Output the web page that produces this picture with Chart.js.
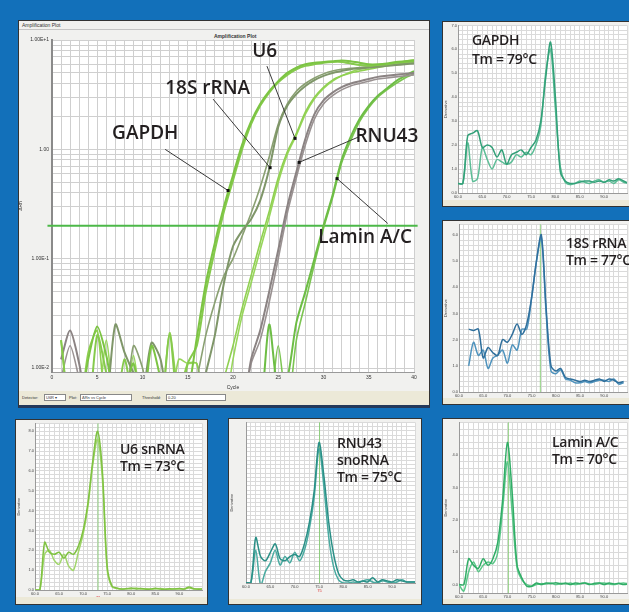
<!DOCTYPE html>
<html>
<head>
<meta charset="utf-8">
<script src="https://cdn.jsdelivr.net/npm/chart.js@4.4.0/dist/chart.umd.min.js"></script>
<style>
  body { margin: 0; width: 629px; height: 612px; background: #1270ba; position: relative; overflow: hidden; font-family: "Liberation Sans", sans-serif; }
  .win { position: absolute; background: #f1f1ef; border: 1px solid #333; box-sizing: border-box; }
  canvas { position: absolute; }
  .tiny { position: absolute; font-size: 4px; line-height: 5px; color: #333; white-space: nowrap; }
  .bar { position: absolute; background: #ece9d8; }
  .box { position: absolute; background: #fff; border: 1px solid #888; box-sizing: border-box; font-size: 4px; line-height: 5px; padding-left: 1px; color: #333; }
  .tag { position: absolute; font-family: "Open Sans", sans-serif; font-weight: 600; font-size: 14px; line-height: 17px; color: #231f20; white-space: nowrap; letter-spacing: -0.3px; }
</style>
</head>
<body>

<!-- amplification plot window -->
<div class="win" style="left:18px;top:20px;width:412px;height:388px;border-bottom:3px solid #24395a"></div>
<div class="tiny" style="left:22px;top:23px;font-size:5px">Amplification Plot</div>
<div style="position:absolute;left:19px;top:29px;width:410px;height:1px;background:#c4c4c4"></div>
<div class="tiny" style="left:214px;top:34px;font-size:5px;font-weight:bold">Amplification Plot</div>
<canvas id="amp" width="412" height="362" style="left:18px;top:29px"></canvas>
<div class="bar" style="left:19px;top:391px;width:410px;height:14px"></div>
<div class="tiny" style="left:22px;top:395px">Detector:</div>
<div class="box" style="left:44px;top:394px;width:22px;height:7px">U6R &#9662;</div>
<div class="tiny" style="left:69px;top:395px">Plot:</div>
<div class="box" style="left:80px;top:394px;width:52px;height:7px">&Delta;Rn vs Cycle</div>
<div class="tiny" style="left:142px;top:395px">Threshold:</div>
<div class="box" style="left:166px;top:394px;width:60px;height:7px">0.20</div>

<!-- melt panels -->
<div class="win" style="left:442px;top:21px;width:190px;height:186px"></div>
<canvas id="mGapdh" width="186" height="178" style="left:443px;top:22px"></canvas>
<div class="bar" style="left:443px;top:200px;width:186px;height:6px"></div>

<div class="win" style="left:442px;top:220px;width:190px;height:185px"></div>
<canvas id="m18s" width="186" height="177" style="left:443px;top:221px"></canvas>
<div class="bar" style="left:443px;top:398px;width:186px;height:6px"></div>

<div class="win" style="left:15px;top:419px;width:193px;height:186px"></div>
<canvas id="mU6" width="191" height="177" style="left:16px;top:420px"></canvas>
<div class="bar" style="left:16px;top:597px;width:191px;height:7px"></div>

<div class="win" style="left:228px;top:418px;width:194px;height:187px"></div>
<canvas id="mRnu" width="192" height="180" style="left:229px;top:419px"></canvas>
<div class="bar" style="left:229px;top:599px;width:192px;height:5px"></div>

<div class="win" style="left:442px;top:418px;width:190px;height:187px"></div>
<canvas id="mLamin" width="186" height="180" style="left:443px;top:419px"></canvas>
<div class="bar" style="left:443px;top:599px;width:186px;height:5px"></div>

<div class="tag" style="left:472px;top:30px;line-height:19px">GAPDH<br>Tm = 79&deg;C</div>
<div class="tag" style="left:566px;top:234px">18S rRNA<br>Tm = 77&deg;C</div>
<div class="tag" style="left:120px;top:440px">U6 snRNA<br>Tm = 73&deg;C</div>
<div class="tag" style="left:337px;top:434px">RNU43<br>snoRNA<br>Tm = 75&deg;C</div>
<div class="tag" style="left:552px;top:433px">Lamin A/C<br>Tm = 70&deg;C</div>

<script>
// ---- amplification plot data (delta Rn per cycle) ----
const cycles = [1,2,3,4,5,6,7,8,9,10,11,12,13,14,15,16,17,18,19,20,
                21,22,23,24,25,26,27,28,29,30,31,32,33,34,35,36,37,38,39,40];

const gapdh1 = [0.004,0.006,0.004,0.012,0.024,0.013,0.005,0.006,0.011,0.004,
                0.016,0.008,0.004,0.005,0.006,0.019,0.06,0.14,0.3,0.58,
                1.1,1.8,2.6,3.4,4.2,5.0,5.6,6.0,6.2,6.3,
                6.4,6.5,6.4,6.2,6.0,6.0,6.1,6.3,6.4,6.5];
const gapdh2 = [0.018,0.004,0.005,0.004,0.02,0.009,0.004,0.012,0.005,0.004,
                0.006,0.004,0.02,0.004,0.011,0.016,0.05,0.12,0.27,0.52,
                1.0,1.7,2.5,3.3,4.1,4.8,5.4,5.8,6.0,6.2,
                6.3,6.3,6.1,5.9,5.8,5.9,6.0,6.2,6.3,6.4];
const rrna1 = [0.004,0.004,0.004,0.004,0.004,0.005,0.025,0.014,0.009,0.006,
               0.017,0.012,0.004,0.004,0.004,0.004,0.009,0.02,0.06,0.13,
               0.18,0.23,0.34,0.66,1.6,2.5,3.2,3.8,4.3,4.7,
               5.0,5.2,5.4,5.5,5.6,5.7,5.8,5.9,6.0,6.1];
const rrna2 = [0.004,0.004,0.004,0.004,0.004,0.004,0.004,0.004,0.016,0.01,
               0.004,0.004,0.004,0.004,0.004,0.008,0.02,0.04,0.07,0.1,
               0.16,0.26,0.45,0.85,1.7,2.6,3.4,4.0,4.5,4.9,
               5.2,5.4,5.5,5.6,5.7,5.8,5.9,6.0,6.1,6.2];
const u6a = [0.018,0.004,0.004,0.014,0.022,0.004,0.004,0.004,0.004,0.004,
             0.004,0.004,0.021,0.006,0.011,0.011,0.004,0.004,0.008,0.016,
             0.035,0.07,0.14,0.27,0.55,0.95,1.4,2.2,3.0,3.7,
             4.3,4.7,5.0,5.2,5.4,5.6,5.8,6.0,6.2,6.4];
const u6b = [0.004,0.004,0.004,0.004,0.004,0.018,0.004,0.004,0.013,0.004,
             0.004,0.004,0.004,0.012,0.011,0.011,0.004,0.004,0.004,0.012,
             0.03,0.06,0.12,0.24,0.5,0.9,1.35,2.1,2.9,3.6,
             4.2,4.7,5.1,5.4,5.6,5.8,6.0,6.2,6.4,6.6];
const rnu1 = [0.012,0.022,0.011,0.004,0.004,0.004,0.004,0.004,0.004,0.004,
              0.004,0.004,0.004,0.004,0.004,0.004,0.004,0.004,0.004,0.004,
              0.004,0.012,0.022,0.05,0.12,0.3,0.62,1.25,2.1,2.8,
              3.3,3.7,4.0,4.2,4.4,4.6,4.7,4.8,4.9,5.0];
const rnu2 = [0.008,0.016,0.008,0.004,0.004,0.004,0.004,0.004,0.004,0.004,
              0.004,0.004,0.004,0.004,0.004,0.004,0.004,0.004,0.004,0.004,
              0.004,0.011,0.018,0.04,0.1,0.26,0.55,1.1,1.9,2.6,
              3.1,3.5,3.8,4.0,4.2,4.4,4.5,4.6,4.7,4.8];
const lamin1 = [0.004,0.004,0.004,0.004,0.004,0.004,0.004,0.004,0.004,0.004,
                0.004,0.004,0.004,0.004,0.004,0.004,0.004,0.004,0.004,0.004,
                0.004,0.004,0.004,0.025,0.006,0.008,0.026,0.05,0.1,0.2,
                0.38,0.8,1.3,1.9,2.5,3.1,3.6,4.2,4.7,5.2];
const lamin2 = [0.004,0.004,0.004,0.004,0.004,0.004,0.004,0.004,0.004,0.004,
                0.004,0.004,0.004,0.004,0.004,0.004,0.004,0.004,0.004,0.004,
                0.004,0.004,0.004,0.004,0.016,0.004,0.018,0.04,0.09,0.19,
                0.36,0.75,1.2,1.8,2.4,3.0,3.5,4.0,4.5,4.9];
const threshold = 0.2;

const yTickValues = [0.01, 0.1, 1, 10];
const yTickLabels = ['1.00E-2', '1.00E-1', '1.00', '1.00E+1'];
const xTickLabels = [0, 5, 10, 15, 20, 25, 30, 35, 40];

// ---- melt curve data (derivative vs temperature) ----
const temps = [60,61,62,63,64,65,66,67,68,69,70,71,72,73,74,75,76,77,
               78,79,80,81,82,83,84,85,86,87,88,89,90,91,92,93,94,95];

const meltGapdh1 = [0.4,0.4,2.4,2.5,2.6,1.9,2.0,1.9,1.5,1.8,1.2,1.6,1.7,1.8,1.6,1.9,2.2,3.0,
                    4.8,6.3,4.0,0.9,0.5,0.4,0.4,0.45,0.5,0.5,0.45,0.5,0.45,0.55,0.5,0.6,0.5,0.4];
const meltGapdh2 = [0.4,0.4,2.1,0.5,0.6,1.9,1.4,1.0,1.4,1.3,1.2,1.3,1.6,1.5,1.7,1.6,2.0,2.8,
                    5.0,6.0,3.5,1.1,0.45,0.35,0.4,0.5,0.45,0.4,0.5,0.55,0.45,0.5,0.4,0.55,0.45,0.4];
const melt18s1 = [null,null,2.4,2.35,2.4,1.3,1.7,1.5,1.4,2.0,1.9,2.2,2.6,2.2,2.6,3.6,5.0,6.0,
                  3.2,1.0,0.8,0.9,0.55,0.5,0.45,0.4,0.45,0.4,0.45,0.5,0.4,0.5,0.45,0.35,0.4,null];
const melt18s2 = [null,null,1.0,1.9,1.4,1.6,0.9,1.3,1.4,1.6,1.1,1.8,1.6,2.4,2.4,3.6,5.0,5.9,
                  3.0,0.8,0.7,0.85,0.5,0.45,0.35,0.35,0.4,0.35,0.4,0.45,0.45,0.4,0.5,0.3,0.35,null];
const meltU6a = [0,0,2.4,1.9,1.8,1.9,1.6,1.9,1.8,2.2,3.0,4.4,6.5,8.0,6.0,1.2,0.2,0.1,
                 0.05,0.06,0.1,0.05,0.08,0.04,0.05,0.09,0.05,0.03,0.06,0.05,0.08,0.05,0.15,0.06,0.04,0.05];
const meltU6b = [0,0,1.8,2.0,1.5,1.3,1.8,1.2,1.0,1.9,2.8,4.2,6.3,7.6,5.6,1.0,0.15,0.08,
                 0.04,0.07,0.05,0.1,0.05,0.06,0.04,0.05,0.07,0.05,0.04,0.06,0.05,0.04,0.1,0.05,0.06,0.04];
const meltRnu1 = [0.46,0.46,2.6,1.7,1.5,1.9,2.3,1.6,1.5,1.7,1.8,1.7,2.3,3.3,4.8,7.1,5.5,3.3,
                  1.8,0.9,0.6,0.55,0.6,0.5,0.55,0.5,0.7,0.5,0.6,0.55,0.5,0.6,0.55,0.5,0.5,0.5];
const meltRnu2 = [0.46,0.46,2.0,0.35,1.0,1.4,2.0,1.3,1.7,1.4,1.9,1.5,2.0,3.0,4.5,6.8,5.0,2.6,
                  1.2,0.6,0.45,0.45,0.5,0.45,0.55,0.6,0.5,0.45,0.55,0.5,0.45,0.5,0.6,0.5,0.5,0.5];
const meltLamin1 = [0,0,0.8,0.6,0.5,0.8,0.6,0.8,1.3,2.6,4.4,2.8,0.6,0.2,-0.05,-0.05,0.05,0.0,
                    0.05,0.03,0.06,0.02,0.05,0.0,0.05,0.03,0.05,0.0,0.04,0.05,0.0,0.05,0.02,0.04,0.0,0.02];
const meltLamin2 = [0,-0.2,0.4,0.7,0.4,0.6,0.7,0.65,1.0,2.3,3.8,2.2,0.5,0.15,0.0,-0.05,0.0,0.03,
                    0.02,0.05,0.0,0.04,0.02,0.05,0.0,0.03,0.05,0.02,0.0,0.04,0.05,0.02,0.0,0.03,0.05,0.02];
const meltTicks = [60, 65, 70, 75, 80, 85, 90];

function series(xs, ys) {
  return xs.map((x, i) => ({ x: x, y: ys[i] }));
}

// white plotting area, like the instrument software
const whiteArea = {
  id: 'whiteArea',
  beforeDraw(chart) {
    const a = chart.chartArea, ctx = chart.ctx;
    ctx.save();
    ctx.fillStyle = '#ffffff';
    ctx.fillRect(a.left, a.top, a.right - a.left, a.bottom - a.top);
    ctx.restore();
  }
};

// ---- amplification plot ----
const ampLines = [
  { ys: gapdh1, color: '#7cc443', width: 2 },
  { ys: gapdh2, color: '#86ca4c', width: 2 },
  { ys: rrna1, color: '#7f9669', width: 2 },
  { ys: rrna2, color: '#8aa072', width: 1.6 },
  { ys: u6a, color: '#8fd050', width: 1.6 },
  { ys: u6b, color: '#98d65c', width: 1.6 },
  { ys: rnu1, color: '#8b8383', width: 2 },
  { ys: rnu2, color: '#9a9292', width: 1.6 },
  { ys: lamin1, color: '#6dbd45', width: 2 },
  { ys: lamin2, color: '#7cc552', width: 1.6 }
];

const ampNotes = [
  { text: 'GAPDH', tx: 10.3, ty: 1.24, lx: 12.5, ly: 1.0, dx: 19.45, dy: 0.42 },
  { text: '18S rRNA', tx: 17.2, ty: 3.2, lx: 17.8, ly: 2.88, dx: 24.1, dy: 0.68 },
  { text: 'U6', tx: 23.5, ty: 6.98, lx: 23.75, ly: 5.77, dx: 26.85, dy: 1.26 },
  { text: 'RNU43', tx: 37.0, ty: 1.16, lx: 33.8, ly: 1.29, dx: 27.3, dy: 0.76 },
  { text: 'Lamin A/C', tx: 34.6, ty: 0.14, lx: 37.1, ly: 0.21, dx: 31.5, dy: 0.54 }
];

const notePlugin = {
  id: 'notes',
  afterDatasetsDraw(chart) {
    const ctx = chart.ctx, xs = chart.scales.x, ys = chart.scales.y;
    ctx.save();
    ampNotes.forEach(n => {
      const lx = xs.getPixelForValue(n.lx), ly = ys.getPixelForValue(n.ly);
      const dx = xs.getPixelForValue(n.dx), dy = ys.getPixelForValue(n.dy);
      ctx.strokeStyle = '#3a3a3a';
      ctx.lineWidth = 1;
      ctx.beginPath();
      ctx.moveTo(lx, ly);
      ctx.lineTo(dx, dy);
      ctx.stroke();
      ctx.fillStyle = '#111';
      ctx.fillRect(dx - 1.5, dy - 1.5, 3, 3);
      ctx.font = '600 19px "Open Sans", sans-serif';
      ctx.textAlign = 'center';
      ctx.textBaseline = 'alphabetic';
      ctx.fillStyle = '#231f20';
      ctx.fillText(n.text, xs.getPixelForValue(n.tx), ys.getPixelForValue(n.ty));
    });
    ctx.restore();
  }
};

const yGrid = [];
yTickValues.slice(0, -1).forEach(d => {
  for (let k = 1; k <= 9; k++) yGrid.push(d * k);
});
yGrid.push(yTickValues[yTickValues.length - 1]);

const ampDatasets = ampLines.map(l => ({
  data: series(cycles, l.ys),
  borderColor: l.color,
  borderWidth: l.width,
  pointRadius: 0,
  tension: 0.25,
  fill: false
}));
ampDatasets.push({
  data: [{ x: -0.5, y: threshold }, { x: 40.4, y: threshold }],
  borderColor: '#4cb848',
  borderWidth: 2,
  pointRadius: 0,
  clip: 5
});

new Chart(document.getElementById('amp'), {
  type: 'line',
  data: { datasets: ampDatasets },
  options: {
    responsive: false,
    animation: false,
    devicePixelRatio: 1,
    events: [],
    layout: { padding: { top: 11, right: 16, bottom: 0, left: 0 } },
    plugins: { legend: { display: false }, tooltip: { enabled: false } },
    scales: {
      x: {
        type: 'linear', min: 0, max: 40,
        afterFit(s) { s.height = 19; },
        ticks: {
          stepSize: 1, autoSkip: false, maxRotation: 0, padding: 3,
          font: { size: 5, family: 'Liberation Sans' }, color: '#333',
          callback: v => xTickLabels.includes(v) ? String(v) : ''
        },
        grid: { color: '#cfcfcf', drawTicks: false },
        border: { color: '#9a9a9a' },
        title: { display: true, text: 'Cycle', font: { size: 5, family: 'Liberation Sans' }, color: '#333', padding: 0 }
      },
      y: {
        type: 'logarithmic', min: 0.0092, max: 10,
        afterFit(s) { s.width = 34; },
        afterBuildTicks(s) { s.ticks = yGrid.map(v => ({ value: v })); },
        ticks: {
          autoSkip: false, padding: 3,
          font: { size: 5, family: 'Liberation Sans' }, color: '#333',
          callback: v => {
            const i = yTickValues.findIndex(t => Math.abs(t - v) < t * 1e-6);
            return i >= 0 ? yTickLabels[i] : '';
          }
        },
        grid: { color: '#cfcfcf', drawTicks: false },
        border: { color: '#8a8a8a', width: 2 },
        title: { display: true, text: '\u0394Rn', font: { size: 5, family: 'Liberation Sans' }, color: '#333', padding: 0 }
      }
    }
  },
  plugins: [whiteArea, notePlugin]
});

// ---- melt curve panels ----
function meltChart(id, reps, colors, yMin, yMax, tm, box) {
  const vline = {
    id: 'vline',
    beforeDatasetsDraw(chart) {
      if (tm === null) return;
      const ctx = chart.ctx, a = chart.chartArea;
      const x = chart.scales.x.getPixelForValue(tm);
      ctx.save();
      ctx.strokeStyle = 'rgba(120,200,100,0.8)';
      ctx.lineWidth = 1;
      ctx.beginPath();
      ctx.moveTo(x, a.top);
      ctx.lineTo(x, a.bottom);
      ctx.stroke();
      ctx.fillStyle = '#d33';
      ctx.font = '4px "Liberation Sans"';
      ctx.textAlign = 'center';
      ctx.fillText(String(tm.toFixed(0)), x, a.bottom + 9);
      ctx.restore();
    }
  };
  new Chart(document.getElementById(id), {
    type: 'line',
    data: {
      datasets: reps.map((ys, i) => ({
        data: series(temps, ys),
        borderColor: colors[i],
        borderWidth: 1.5,
        pointRadius: 0,
        tension: 0.3,
        spanGaps: false,
        fill: false
      }))
    },
    options: {
      responsive: false,
      animation: false,
      devicePixelRatio: 1,
      events: [],
      layout: { padding: { top: box.top, right: box.right, bottom: 0, left: 0 } },
      plugins: { legend: { display: false }, tooltip: { enabled: false } },
      scales: {
        x: {
          type: 'linear', min: 60, max: 94.7,
          afterFit(s) { s.height = box.xh; },
          ticks: {
            stepSize: 1, autoSkip: false, maxRotation: 0, padding: 1,
            font: { size: 4, family: 'Liberation Sans' }, color: '#444',
            callback: v => meltTicks.includes(v) ? v.toFixed(1) : ''
          },
          grid: { color: '#dadada', drawTicks: false },
          border: { color: '#9a9a9a' }
        },
        y: {
          type: 'linear', min: yMin, max: yMax,
          afterFit(s) { s.width = box.yw; },
          ticks: {
            stepSize: 0.2, autoSkip: false, padding: 1,
            font: { size: 4, family: 'Liberation Sans' }, color: '#444',
            callback: v => Math.abs(v - Math.round(v)) < 1e-6 ? Math.round(v).toFixed(1) : ''
          },
          grid: { color: '#dadada', drawTicks: false },
          border: { color: '#9a9a9a' },
          title: { display: true, text: 'Derivative', font: { size: 4, family: 'Liberation Sans' }, color: '#444', padding: 0 }
        }
      }
    },
    plugins: [whiteArea, vline]
  });
}

meltChart('mGapdh', [meltGapdh1, meltGapdh2], ['#32a078', '#5cbd96'], 0, 7, null,
          { top: 2, right: 2, xh: 7, yw: 15 });
meltChart('m18s', [melt18s1, melt18s2], ['#2f6f9c', '#4f93bd'], 0, 6.4, 76.8,
          { top: 2, right: 2, xh: 6, yw: 16 });
meltChart('mU6', [meltU6a, meltU6b], ['#7fc241', '#a2d66d'], 0, 8.4, 73.1,
          { top: 2, right: 5, xh: 7, yw: 19 });
meltChart('mRnu', [meltRnu1, meltRnu2], ['#2a8f86', '#4aaba1'], 0.45, 8.05, 75.1,
          { top: 2, right: 6, xh: 16, yw: 17 });
meltChart('mLamin', [meltLamin1, meltLamin2], ['#30ad66', '#5cc789'], -0.26, 5.02, 70.2,
          { top: 3, right: 2, xh: 6, yw: 16 });
</script>
</body>
</html>
